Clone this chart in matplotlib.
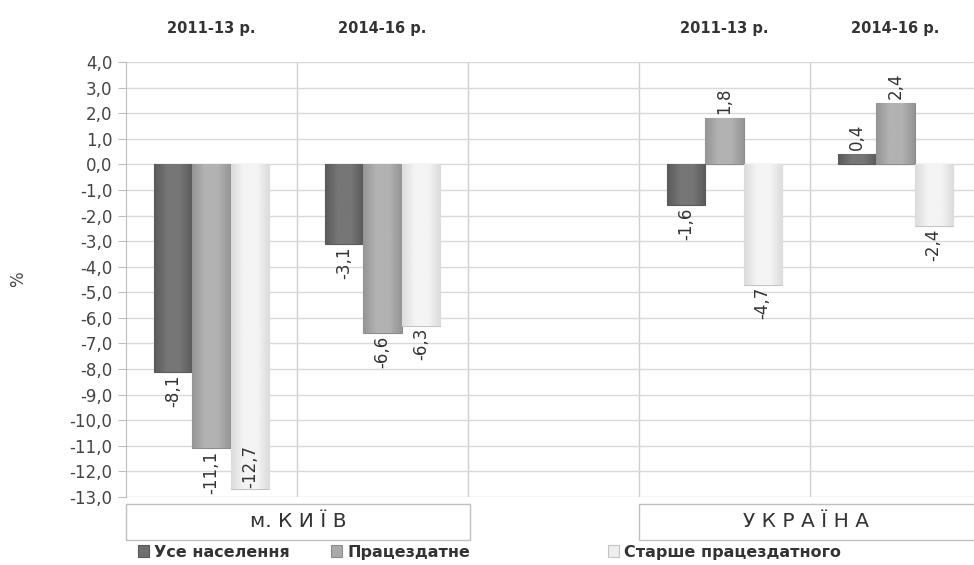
import matplotlib
matplotlib.use("Agg")
import matplotlib.pyplot as plt
import matplotlib.transforms as mtransforms
from matplotlib.patches import Rectangle
from matplotlib.colors import LinearSegmentedColormap
import numpy as np

# data
periods = ["2011-13 р.", "2014-16 р.", "", "2011-13 р.", "2014-16 р."]
series_names = ["Усе населення", "Працездатне", "Старше працездатного"]
all_pop = [-8.1, -3.1, np.nan, -1.6, 0.4]
working = [-11.1, -6.6, np.nan, 1.8, 2.4]
older = [-12.7, -6.3, np.nan, -4.7, -2.4]
regions = ["м. К И Ї В", "У К Р А Ї Н А"]
yticks = np.arange(-13, 5, 1)

colors = ["#6e6e6e", "#a9a9a9", "#eeeeee"]
edges = ["#585858", "#8c8c8c", "#c4c4c4"]
# edge -> centre -> edge shading, a bit like the Excel bevel
shades = [["#5a5a5a", "#767676", "#767676", "#5a5a5a"],
          ["#959595", "#b2b2b2", "#b2b2b2", "#959595"],
          ["#dcdcdc", "#f4f4f4", "#f4f4f4", "#dcdcdc"]]

fig = plt.figure(figsize=(9.74, 5.65), dpi=100)
ax = fig.add_axes([0.1294, 0.1204, 0.8706, 0.7699])

x = np.arange(len(periods))
w = 0.224
grad = np.linspace(0, 1, 64).reshape(1, -1)
handles = []
for i, (vals, name) in enumerate(zip([all_pop, working, older], series_names)):
    pos = x + (i - 1) * w
    b = ax.bar(pos, vals, width=w, color=colors[i], edgecolor=edges[i], linewidth=0.8,
               label=name, zorder=3)
    handles.append(b)
    cmap = LinearSegmentedColormap.from_list("s%d" % i, shades[i])
    for p in b.patches:
        bx, by = p.get_x(), p.get_y()
        bw, bh = p.get_width(), p.get_height()
        if np.isnan(bh) or bh == 0:
            continue
        im = ax.imshow(grad, cmap=cmap, aspect="auto", zorder=3.1,
                       extent=[bx, bx + bw, min(by, by + bh), max(by, by + bh)])
        im.set_clip_path(p)
    for xp, v in zip(pos, vals):
        if np.isnan(v):
            continue
        lab = ("%.1f" % v).replace(".", ",")
        if v < -12:
            # no room below the bar: label goes inside the end
            ax.text(xp, v + 0.05, lab, rotation=90, ha="center", va="bottom",
                    fontsize=12, color="#333333", zorder=4)
        elif v < 0:
            ax.text(xp, v - 0.1, lab, rotation=90, ha="center", va="top",
                    fontsize=12, color="#333333", zorder=4, clip_on=False)
        else:
            ax.text(xp, v + 0.15, lab, rotation=90, ha="center", va="bottom",
                    fontsize=12, color="#333333", zorder=4)

ax.set_xlim(-0.5, 4.46)
ax.set_ylim(-13, 4)
ax.set_yticks(yticks)
ax.set_yticklabels([("%.1f" % t).replace(".", ",") for t in yticks], fontsize=12, color="#444444")
ax.set_xticks([])
ax.yaxis.grid(True, color="#d9d9d9", linewidth=1, zorder=0)
for b in [0.5, 1.5, 2.5, 3.5]:
    ax.axvline(b, color="#cfcfcf", linewidth=1, zorder=0)
for s in ["top", "right", "bottom"]:
    ax.spines[s].set_visible(False)
ax.spines["left"].set_color("#bdbdbd")
ax.tick_params(axis="y", length=6, color="#bdbdbd", pad=4)
ax.set_ylabel("%", fontsize=12, color="#444444", labelpad=30)

# period headers
trans = mtransforms.blended_transform_factory(ax.transData, ax.transAxes)
for xi, p in zip(x, periods):
    if p:
        ax.text(xi, 1.078, p, transform=trans, ha="center", va="center",
                fontsize=10.5, fontweight="bold", color="#333333")

# region boxes below the axis
for (x0, x1), name in zip([(-0.5, 1.51), (2.5, 4.5)], regions):
    r = Rectangle((x0, -0.099), x1 - x0, 0.083, transform=trans, facecolor="white",
                  edgecolor="#bfbfbf", linewidth=1, clip_on=False)
    ax.add_patch(r)
    ax.text((x0 + min(x1, 4.46)) / 2, -0.057, name, transform=trans, ha="center",
            va="center", fontsize=14.5, color="#333333")

# legend entries, placed separately
leg_x = [0.142, 0.340, 0.624]
for h, lx in zip(handles, leg_x):
    lg = fig.legend(handles=[h], loc="center left", bbox_to_anchor=(lx, 0.023),
                    frameon=False, fontsize=11.5, handlelength=0.7, handleheight=0.7,
                    handletextpad=0.3, borderaxespad=0, borderpad=0)
    for t in lg.get_texts():
        t.set_fontweight("bold")
        t.set_color("#333333")

fig.savefig("out.png", dpi=100)
